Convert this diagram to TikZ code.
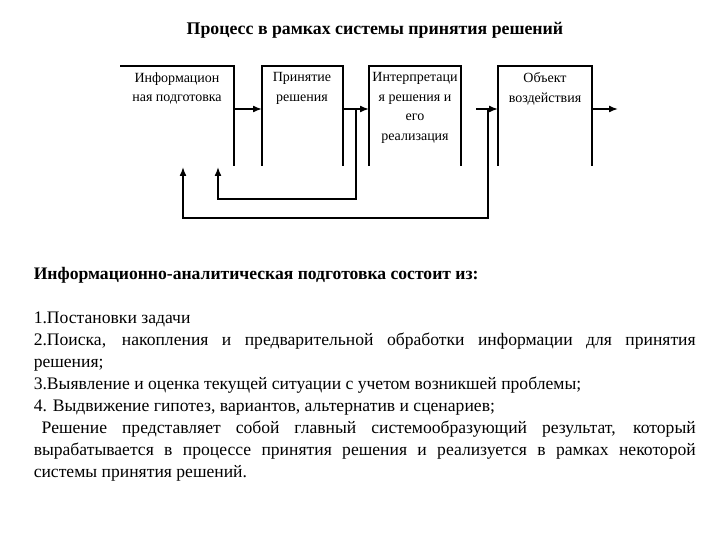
\documentclass[tikz,border=0pt]{standalone}
\usepackage{fontspec}
\setmainfont{Liberation Serif}
\usetikzlibrary{arrows.meta}
\begin{document}
\begin{tikzpicture}[x=1pt,y=-1pt,line width=1.5pt,
  lbl/.style={align=center,font=\fontsize{14}{19.5}\selectfont,anchor=north,inner sep=1pt},
  arr/.style={-{Latex[length=9pt,width=7pt]}},
  txt/.style={anchor=base west,inner sep=0pt,font=\fontsize{17.6}{20}\selectfont}]
\useasboundingbox[fill=white] (0,0) rectangle (720,540);
\node[font=\bfseries\fontsize{17.8}{20}\selectfont] (title) at (375,30) {Процесс в рамках системы принятия решений};
% boxes (open at bottom)
\draw (120,66) -- (234,66) -- (234,166);
\draw (262,166) -- (262,66) -- (343,66) -- (343,166);
\draw (369,166) -- (369,66) -- (461,66) -- (461,166);
\draw (498,166) -- (498,66) -- (592,66) -- (592,166);
\node[lbl] (b1) at (177,71) {Информацион\\ная подготовка};
\node[lbl] (b2) at (302,71) {Принятие\\решения};
\node[lbl] (b3) at (415,71) {Интерпретаци\\я решения и\\его\\реализация};
\node[lbl] (b4) at (545,71) {Объект\\воздействия};
\coordinate (a1) at (234,109); \coordinate (a2) at (262,109);
\coordinate (a3) at (343,109); \coordinate (a4) at (369,109);
\coordinate (a5) at (476,109); \coordinate (a6) at (498,109);
\coordinate (a7) at (592,109); \coordinate (a8) at (618,109);
\draw[arr] (a1) -- (a2);
\draw[arr] (a3) -- (a4);
\draw[arr] (a5) -- (a6);
\draw[arr] (a7) -- (a8);
\coordinate (f1) at (356,109); \coordinate (f1e) at (218,167);
\coordinate (f2) at (488,109); \coordinate (f2e) at (183,167);
\draw[arr] (f1) -- (356,199) -- (218,199) -- (f1e);
\draw[arr] (f2) -- (488,218) -- (183,218) -- (f2e);
% text
\node[txt,font=\bfseries\fontsize{17.6}{20}\selectfont] (h) at (33,279) {Информационно-аналитическая подготовка состоит из:};
\node[txt] (l1) at (33,323) {1.Постановки задачи};
\node[txt] (l2) at (33,345) {\makebox[662pt][s]{2.Поиска, накопления и предварительной обработки информации для принятия}};
\node[txt] (l3) at (33,367) {решения;};
\node[txt] (l4) at (33,389) {3.Выявление и оценка текущей ситуации с учетом возникшей проблемы;};
\node[txt] (l5) at (33,411) {4. Выдвижение гипотез, вариантов, альтернатив и сценариев;};
\node[txt] (l6) at (33,433) {\makebox[662pt][s]{\hspace{8pt}Решение представляет собой главный системообразующий результат, который}};
\node[txt] (l7) at (33,455) {\makebox[662pt][s]{вырабатывается в процессе принятия решения и реализуется в рамках некоторой}};
\node[txt] (l8) at (33,477) {системы принятия решений.};
\end{tikzpicture}
\end{document}
